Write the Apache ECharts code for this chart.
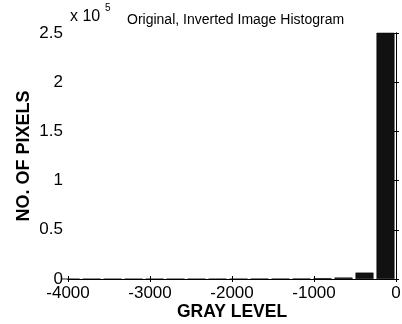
<!DOCTYPE html>
<html><head><meta charset="utf-8">
<script src="https://cdn.jsdelivr.net/npm/echarts@6/dist/echarts.min.js"></script>
<style>html,body{margin:0;padding:0;background:#fff}#c{width:402px;height:324px}</style>
</head><body><div id="c"></div>
<script>
var binCenters = [-128, -384, -640, -896, -1152, -1408, -1664, -1920, -2176, -2432, -2688, -2944, -3200, -3456, -3712, -3968];
var pixelCounts = [255000, 6500, 1500, 800, 300, 100, 150, 50, 40, 30, 20, 20, 10, 10, 10, 10];
var xTicks = [-4000, -3000, -2000, -1000, 0];
var yTicks = [0, 50000, 100000, 150000, 200000, 250000];
var titleText = 'Original, Inverted Image Histogram';
var xName = 'GRAY LEVEL';
var yName = 'NO. OF PIXELS';

var data = binCenters.map(function (c, i) { return [c, pixelCounts[i]]; });
var font = 'Liberation Sans, Arial, sans-serif';
var chart = echarts.init(document.getElementById('c'));
chart.setOption({
  animation: false,
  backgroundColor: '#fff',
  grid: { left: 68, right: 6, top: 33, bottom: 45, containLabel: false, outerBoundsMode: 'none' },
  title: {
    text: titleText, left: 122, top: 8,
    textStyle: { fontFamily: font, fontSize: 14, fontWeight: 'normal', color: '#000' }
  },
  graphic: [
    { type: 'text', left: 70, top: 9, style: { text: 'x 10', fontFamily: font, fontSize: 16, fill: '#000' } },
    { type: 'text', left: 105, top: 3, style: { text: '5', fontFamily: font, fontSize: 10, fill: '#000' } }
  ],
  xAxis: [{
    type: 'value', min: xTicks[0], max: xTicks[xTicks.length - 1], interval: 1000,
    name: xName, nameLocation: 'middle', nameGap: 24, nameMoveOverlap: false,
    nameTextStyle: { fontFamily: font, fontSize: 17.5, fontWeight: 'bold', color: '#000' },
    axisLine: { show: true, lineStyle: { color: '#000', width: 1 } },
    axisTick: { show: true, inside: true, length: 3, lineStyle: { color: '#000' } },
    axisLabel: { fontFamily: font, fontSize: 17, color: '#000', margin: 6,
      formatter: function (v) { return String(v); } },
    splitLine: { show: false }
  }, {
    type: 'value', position: 'top', min: xTicks[0], max: xTicks[xTicks.length - 1], interval: 1000,
    axisLine: { show: true, lineStyle: { color: '#000', width: 1 } },
    axisTick: { show: true, inside: true, length: 3, lineStyle: { color: '#000' } },
    axisLabel: { show: false }, splitLine: { show: false }
  }],
  yAxis: [{
    type: 'value', min: yTicks[0], max: yTicks[yTicks.length - 1], interval: 50000,
    name: yName, nameLocation: 'middle', nameGap: 35, nameRotate: 90, nameMoveOverlap: false,
    nameTextStyle: { fontFamily: font, fontSize: 18, fontWeight: 'bold', color: '#000' },
    axisLine: { show: true, lineStyle: { color: '#000', width: 1 } },
    axisTick: { show: true, inside: true, length: 3, lineStyle: { color: '#000' } },
    axisLabel: { fontFamily: font, fontSize: 17, color: '#000', margin: 5,
      formatter: function (v) { return String(v / 100000); } },
    splitLine: { show: false }
  }, {
    type: 'value', position: 'right', min: yTicks[0], max: yTicks[yTicks.length - 1], interval: 50000,
    axisLine: { show: true, lineStyle: { color: '#000', width: 1 } },
    axisTick: { show: true, inside: true, length: 3, lineStyle: { color: '#000' } },
    axisLabel: { show: false }, splitLine: { show: false }
  }],
  series: [{
    type: 'bar', data: data, barWidth: 18, clip: true,
    itemStyle: { color: '#111', borderColor: '#000', borderWidth: 0.5 }
  }]
});
</script></body></html>
